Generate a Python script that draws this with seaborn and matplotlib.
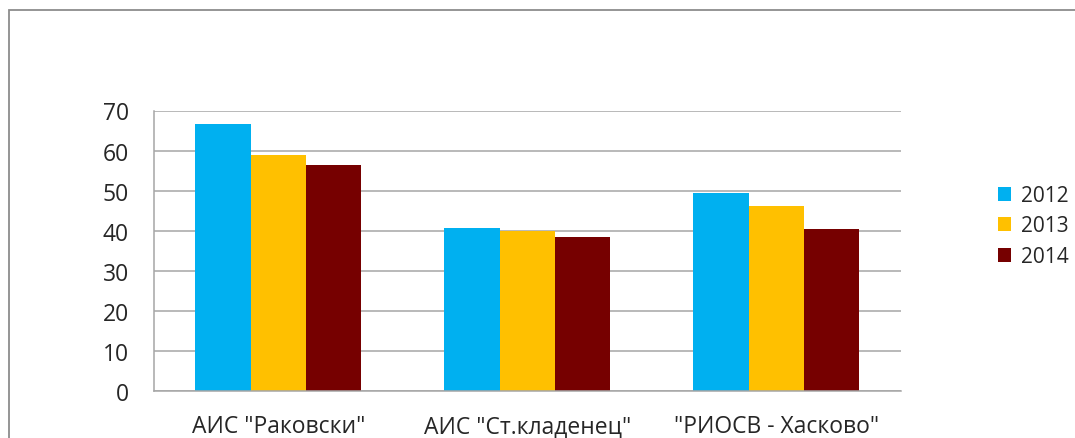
import pandas as pd
import numpy as np
import matplotlib
matplotlib.use('agg')
import matplotlib.pyplot as plt
import seaborn as sns
from matplotlib.patches import Rectangle, Patch

stations = ['АИС "Раковски"', 'АИС "Ст.кладенец"', '"РИОСВ - Хасково"']
years = ['2012', '2013', '2014']
values_2012 = [66.6, 40.6, 49.5]
values_2013 = [59.0, 39.8, 46.2]
values_2014 = [56.3, 38.3, 40.3]
colors = ['#00B0F0', '#FFC000', '#760000']

rows = []
for year, vals in zip(years, [values_2012, values_2013, values_2014]):
    for st, v in zip(stations, vals):
        rows.append({'Station': st, 'Year': year, 'Value': v})
df = pd.DataFrame(rows)

sns.set_style('white')
plt.rcParams['font.family'] = ['Open Sans', 'DejaVu Sans']

fig = plt.figure(figsize=(10.75, 4.39), dpi=100)
ax = fig.add_axes([154 / 1075, 1 - 391.7 / 439, (900.7 - 154) / 1075, (391.7 - 111.5) / 439])

sns.barplot(data=df, x='Station', y='Value', hue='Year', palette=colors,
            width=2 / 3, ax=ax, legend=False, edgecolor='none', saturation=1)

ax.set_ylim(0, 70)
ax.set_yticks(range(0, 71, 10))
ax.set_xlim(-0.5, 2.5)
ax.set_xlabel('')
ax.set_ylabel('')
ax.grid(axis='y', color='#A6A6A6', linewidth=1.1)
ax.set_axisbelow(True)
for side in ['top', 'right']:
    ax.spines[side].set_visible(False)
for side in ['left', 'bottom']:
    ax.spines[side].set_color('#A6A6A6')
    ax.spines[side].set_linewidth(1.1)

# category labels centred, tick marks at category boundaries
ax.set_xticks([-0.5, 0.5, 1.5, 2.5])
ax.set_xticklabels([])
ax.set_xticks([0, 1, 2], minor=True)
ax.set_xticklabels(stations, minor=True, fontsize=16.5)
ax.tick_params(axis='x', which='minor', length=0, pad=17)
ax.tick_params(axis='x', which='major', length=6, width=1.1, color='#A6A6A6', direction='out')
ax.tick_params(axis='y', length=6, width=1.1, color='#A6A6A6', direction='out', labelsize=16.5, pad=12)

handles = [Patch(facecolor=c, edgecolor='none') for c in colors]
fig.legend(handles, years, loc='center left', bbox_to_anchor=(979 / 1075, 1 - 227 / 439),
           frameon=False, fontsize=15, handlelength=0.65, handleheight=0.65,
           handletextpad=0.45, labelspacing=0.45)

fig.patches.append(Rectangle((9 / 1075, -0.1), 1.2, 1.075, transform=fig.transFigure,
                             fill=False, edgecolor='#8C8C8C', linewidth=1.3))

fig.savefig('out.png', dpi=100)
plt.close(fig)
